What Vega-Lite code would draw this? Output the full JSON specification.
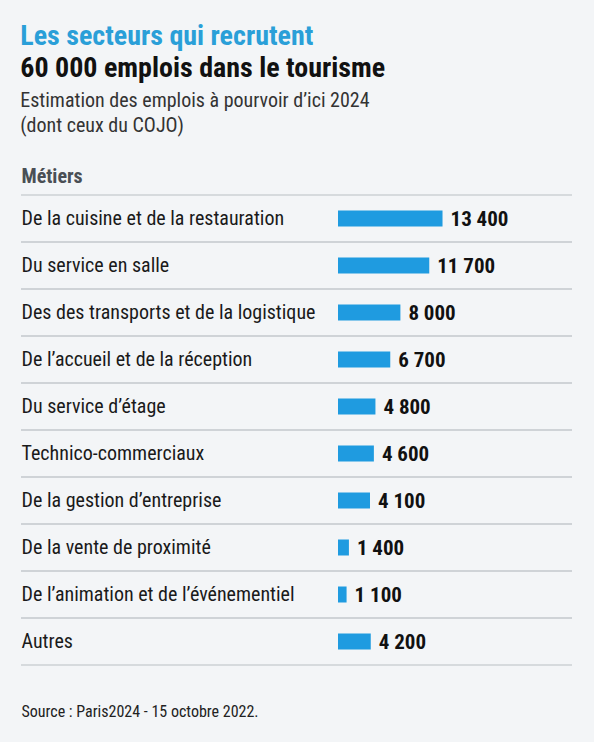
{
  "$schema": "https://vega.github.io/schema/vega-lite/v6.json",
  "background": "#f3f5f7",
  "padding": {"left": 20, "top": 23, "right": 24, "bottom": 29},
  "title": {
    "text": "Les secteurs qui recrutent",
    "subtitle": "60 000 emplois dans le tourisme",
    "anchor": "start",
    "font": "Liberation Sans Narrow, Roboto Condensed, Roboto",
    "fontSize": 28,
    "fontWeight": "bold",
    "color": "#2a9fd8",
    "subtitleFont": "Liberation Sans Narrow, Roboto Condensed, Roboto",
    "subtitleFontSize": 28,
    "subtitleFontWeight": "bold",
    "subtitleColor": "#111111",
    "subtitlePadding": 4,
    "offset": 8
  },
  "config": {
    "view": {"stroke": null},
    "locale": {"number": {"decimal": ",", "thousands": " ", "grouping": [3], "currency": ["", " €"]}}
  },
  "vconcat": [
    {
      "width": 551,
      "height": 470,
      "title": {
        "text": ["Estimation des emplois à pourvoir d’ici 2024", "(dont ceux du COJO)"],
        "anchor": "start",
        "font": "Liberation Sans Narrow, Roboto Condensed, Roboto",
        "fontSize": 20,
        "fontWeight": "normal",
        "color": "#333333",
        "lineHeight": 25,
        "offset": 30
      },
      "data": {
        "values": [
          {"metier": "De la cuisine et de la restauration", "emplois": 13400},
          {"metier": "Du service en salle", "emplois": 11700},
          {"metier": "Des des transports et de la logistique", "emplois": 8000},
          {"metier": "De l’accueil et de la réception", "emplois": 6700},
          {"metier": "Du service d’étage", "emplois": 4800},
          {"metier": "Technico-commerciaux", "emplois": 4600},
          {"metier": "De la gestion d’entreprise", "emplois": 4100},
          {"metier": "De la vente de proximité", "emplois": 1400},
          {"metier": "De l’animation et de l’événementiel", "emplois": 1100},
          {"metier": "Autres", "emplois": 4200}
        ]
      },
      "encoding": {
        "y": {
          "field": "metier",
          "type": "nominal",
          "sort": null,
          "scale": {"paddingInner": 0, "paddingOuter": 0},
          "axis": {
            "title": "Métiers",
            "titleAngle": 0,
            "titleX": 0,
            "titleY": -9,
            "titleAlign": "left",
            "titleBaseline": "bottom",
            "titleFont": "Liberation Sans Narrow, Roboto Condensed, Roboto",
            "titleFontSize": 20,
            "titleFontWeight": "bold",
            "titleColor": "#4a4f55",
            "labelAlign": "left",
            "labelPadding": 0,
            "labelFont": "Liberation Sans Narrow, Roboto Condensed, Roboto",
            "labelFontSize": 20,
            "labelColor": "#1a1a1a",
            "labelLimit": 320,
            "ticks": false,
            "tickSize": 0,
            "domain": false,
            "grid": false
          }
        }
      },
      "layer": [
        {
          "mark": {"type": "rule", "color": "#cdd1d5", "strokeWidth": 1.5},
          "encoding": {"y": {"field": "metier", "type": "nominal", "sort": null, "bandPosition": 0}}
        },
        {
          "mark": {"type": "rule", "color": "#cdd1d5", "strokeWidth": 1.5},
          "encoding": {"y": {"field": "metier", "type": "nominal", "sort": null, "bandPosition": 1}}
        },
        {
          "mark": {"type": "bar", "height": 16, "color": "#1f9be0"},
          "encoding": {
            "x": {
              "field": "emplois",
              "type": "quantitative",
              "scale": {"domain": [0, 30000], "range": [317, 551]},
              "axis": {
                "title": "Source : Paris2024 - 15 octobre 2022.",
                "labels": false,
                "ticks": false,
                "domain": false,
                "grid": false,
                "titleX": 0,
                "titleAlign": "left",
                "titleAnchor": "start",
                "titlePadding": 38,
                "titleFont": "Liberation Sans Narrow, Roboto Condensed, Roboto",
                "titleFontSize": 16,
                "titleFontWeight": "normal",
                "titleColor": "#222222"
              }
            }
          }
        },
        {
          "mark": {"type": "text", "align": "left", "baseline": "middle", "dx": 8, "dy": 1, "font": "Liberation Sans Narrow, Roboto Condensed, Roboto", "fontSize": 21, "fontWeight": "bold", "color": "#111111"},
          "encoding": {
            "x": {"field": "emplois", "type": "quantitative"},
            "text": {"field": "emplois", "type": "quantitative", "format": ",d"}
          }
        }
      ]
    }
  ]
}
